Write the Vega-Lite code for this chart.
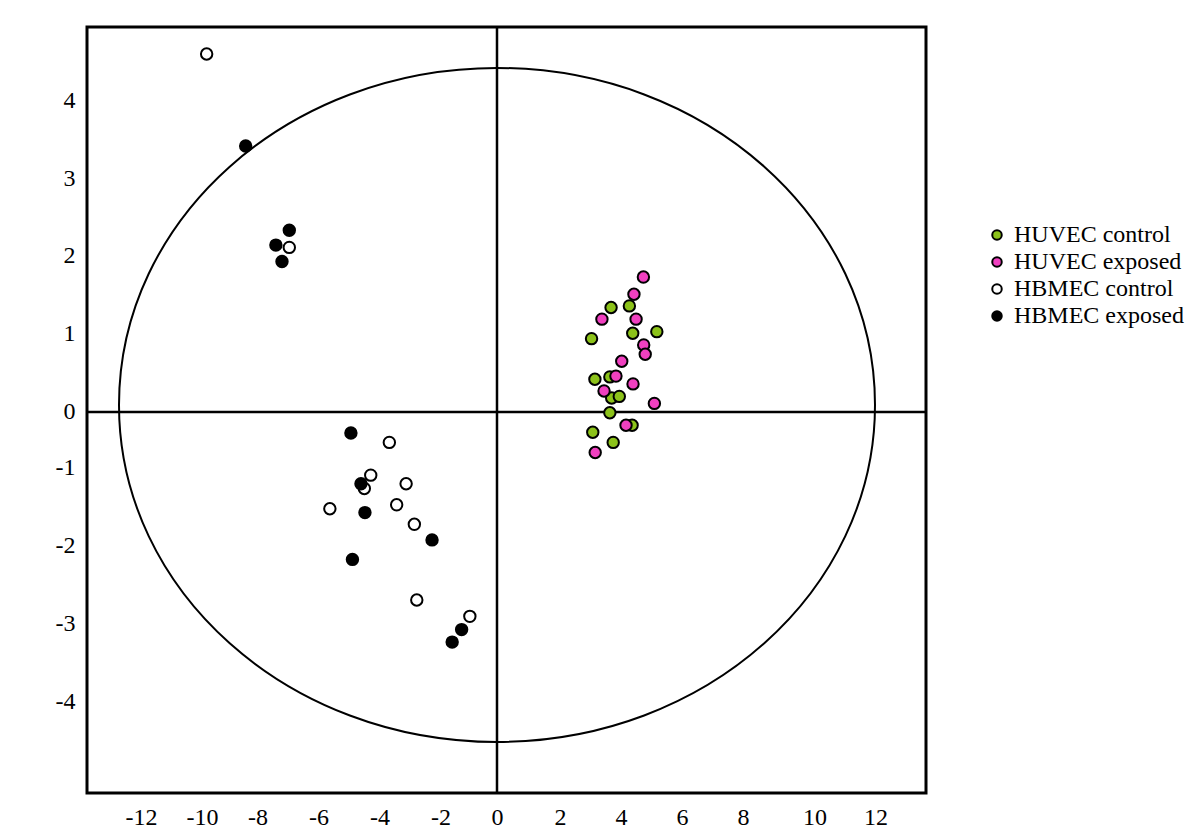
{
  "$schema": "https://vega.github.io/schema/vega-lite/v6.json",
  "width": 839,
  "height": 766,
  "autosize": {"type": "none"},
  "padding": {"left": 87, "top": 27, "right": 274, "bottom": 47},
  "background": "white",
  "config": {
    "view": {"stroke": "black", "strokeWidth": 3},
    "axis": {
      "labelFont": "Liberation Serif",
      "labelFontSize": 24,
      "labelColor": "black",
      "ticks": false,
      "domain": false,
      "grid": false,
      "labelPadding": 12,
      "labelFlush": false,
      "labelOverlap": false
    }
  },
  "datasets": {
    "ellipse": [{"x": 0, "y": 0.09}],
    "scores": [
      {"group": "HUVEC control", "x": 3.74, "y": 1.34},
      {"group": "HUVEC control", "x": 4.34, "y": 1.36},
      {"group": "HUVEC control", "x": 3.10, "y": 0.94},
      {"group": "HUVEC control", "x": 4.45, "y": 1.01},
      {"group": "HUVEC control", "x": 5.24, "y": 1.03},
      {"group": "HUVEC control", "x": 3.21, "y": 0.42},
      {"group": "HUVEC control", "x": 3.70, "y": 0.45},
      {"group": "HUVEC control", "x": 3.76, "y": 0.18},
      {"group": "HUVEC control", "x": 4.01, "y": 0.20},
      {"group": "HUVEC control", "x": 3.70, "y": -0.01},
      {"group": "HUVEC control", "x": 4.43, "y": -0.17},
      {"group": "HUVEC control", "x": 3.14, "y": -0.26},
      {"group": "HUVEC control", "x": 3.81, "y": -0.39},
      {"group": "HUVEC exposed", "x": 4.80, "y": 1.73},
      {"group": "HUVEC exposed", "x": 4.49, "y": 1.51},
      {"group": "HUVEC exposed", "x": 3.44, "y": 1.19},
      {"group": "HUVEC exposed", "x": 4.56, "y": 1.19},
      {"group": "HUVEC exposed", "x": 4.81, "y": 0.86},
      {"group": "HUVEC exposed", "x": 4.86, "y": 0.74},
      {"group": "HUVEC exposed", "x": 4.09, "y": 0.65},
      {"group": "HUVEC exposed", "x": 3.90, "y": 0.46},
      {"group": "HUVEC exposed", "x": 4.46, "y": 0.36},
      {"group": "HUVEC exposed", "x": 3.51, "y": 0.27},
      {"group": "HUVEC exposed", "x": 5.16, "y": 0.11},
      {"group": "HUVEC exposed", "x": 4.23, "y": -0.17},
      {"group": "HUVEC exposed", "x": 3.22, "y": -0.52},
      {"group": "HBMEC control", "x": -3.53, "y": -0.39},
      {"group": "HBMEC control", "x": -4.14, "y": -0.81},
      {"group": "HBMEC control", "x": -4.35, "y": -0.98},
      {"group": "HBMEC control", "x": -2.98, "y": -0.92},
      {"group": "HBMEC control", "x": -5.48, "y": -1.24},
      {"group": "HBMEC control", "x": -3.29, "y": -1.19},
      {"group": "HBMEC control", "x": -2.71, "y": -1.44},
      {"group": "HBMEC control", "x": -2.63, "y": -2.41},
      {"group": "HBMEC control", "x": -0.89, "y": -2.62},
      {"group": "HBMEC exposed", "x": -8.24, "y": 3.41},
      {"group": "HBMEC exposed", "x": -6.81, "y": 2.33},
      {"group": "HBMEC exposed", "x": -7.25, "y": 2.14},
      {"group": "HBMEC exposed", "x": -7.05, "y": 1.93},
      {"group": "HBMEC exposed", "x": -4.79, "y": -0.27},
      {"group": "HBMEC exposed", "x": -4.46, "y": -0.92},
      {"group": "HBMEC exposed", "x": -4.33, "y": -1.29},
      {"group": "HBMEC exposed", "x": -2.13, "y": -1.64},
      {"group": "HBMEC exposed", "x": -4.74, "y": -1.89},
      {"group": "HBMEC exposed", "x": -1.16, "y": -2.79},
      {"group": "HBMEC exposed", "x": -1.47, "y": -2.95},
      {"group": "HBMEC control", "x": -9.52, "y": 4.59},
      {"group": "HBMEC control", "x": -6.81, "y": 2.11}
    ]
  },
  "layer": [
    {
      "data": {"name": "ellipse"},
      "mark": {
        "type": "point",
        "shape": "M-1,0A1,0.8915,0,0,1,1,0A1,0.8915,0,0,1,-1,0Z",
        "size": 571536,
        "filled": false,
        "stroke": "black",
        "strokeWidth": 2,
        "opacity": 1
      },
      "encoding": {
        "x": {
          "field": "x",
          "type": "quantitative",
          "title": null,
          "scale": {"domain": [-13.443, 14.066], "nice": false, "zero": false},
          "axis": {
            "title": null,
            "values": [-12, -10, -8, -6, -4, -2, 0, 2, 4, 6, 8, 10, 12],
            "labelExpr": "'' + datum.value",
            "labelOffset": {"expr": "abs(datum.value) >= 10 ? (datum.value < 0 ? 10 : 12.5) : (datum.value < 0 ? 4.5 : (datum.value > 0 ? 2 : 0))"}
          }
        },
        "y": {
          "field": "y",
          "type": "quantitative",
          "title": null,
          "scale": {"domain": [-4.885, 4.936], "nice": false, "zero": false},
          "axis": {
            "title": null,
            "values": [-4, -3, -2, -1, 0, 1, 2, 3, 4],
            "labelExpr": "'' + datum.value",
            "labelOffset": {"expr": "datum.value < 0 ? -22 : 0"}
          }
        }
      }
    },
    {
      "data": {"values": [{}]},
      "mark": {"type": "rule", "stroke": "black", "strokeWidth": 2.5},
      "encoding": {"x": {"datum": 0, "type": "quantitative", "title": null}}
    },
    {
      "data": {"values": [{}]},
      "mark": {"type": "rule", "stroke": "black", "strokeWidth": 2.5},
      "encoding": {"y": {"datum": 0, "type": "quantitative", "title": null}}
    },
    {
      "data": {"name": "scores"},
      "mark": {
        "type": "point",
        "shape": "circle",
        "filled": true,
        "size": 130,
        "stroke": "black",
        "strokeWidth": 2,
        "opacity": 1
      },
      "encoding": {
        "x": {"field": "x", "type": "quantitative", "title": null},
        "y": {"field": "y", "type": "quantitative", "title": null},
        "fill": {
          "field": "group",
          "type": "nominal",
          "scale": {
            "domain": ["HUVEC control", "HUVEC exposed", "HBMEC control", "HBMEC exposed"],
            "range": ["#8CC21A", "#F040C0", "#FFFFFF", "#000000"]
          },
          "legend": {
            "title": null,
            "orient": "none",
            "legendX": 898,
            "legendY": 196,
            "padding": 0,
            "labelFont": "Liberation Serif",
            "labelFontSize": 24,
            "labelColor": "black",
            "labelOffset": 5,
            "labelLimit": 400,
            "symbolType": "circle",
            "symbolSize": 90,
            "symbolStrokeColor": "black",
            "symbolStrokeWidth": 2,
            "symbolOpacity": 1,
            "rowPadding": 3
          }
        }
      }
    }
  ]
}
